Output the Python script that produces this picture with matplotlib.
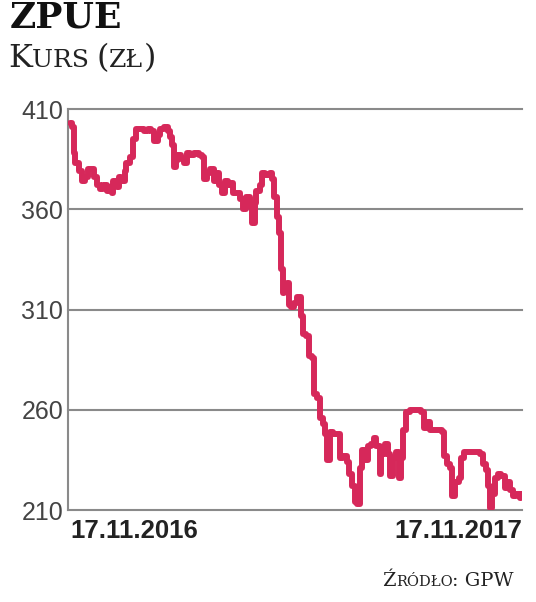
import matplotlib
matplotlib.use("Agg")
import matplotlib.pyplot as plt
from matplotlib.offsetbox import TextArea, HPacker, AnchoredOffsetbox

# calendar days since 17.11.2016 and closing price (zl)
days = [2, 3, 5, 6, 9, 11, 14, 16, 18, 21, 23, 26, 28, 31, 33, 35, 36, 39, 41, 43,
        46, 47, 50, 52, 55, 58, 61, 64, 67, 69, 72, 74, 77, 80, 82, 84, 85, 87, 88, 91,
        93, 96, 98, 101, 105, 108, 109, 112, 114, 117, 119, 121, 124, 126, 129, 131, 133, 136, 138, 141,
        143, 146, 148, 150, 151, 154, 156, 158, 161, 162, 164, 166, 168, 170, 171, 173, 174, 176, 178, 179,
        182, 184, 187, 189, 191, 194, 196, 198, 200, 203, 205, 207, 208, 211, 213, 216, 219, 221, 224, 226,
        228, 231, 232, 235, 236, 239, 241, 244, 246, 248, 251, 252, 255, 257, 259, 261, 264, 266, 268, 269,
        272, 275, 278, 281, 284, 286, 289, 291, 294, 297, 301, 302, 305, 307, 309, 311, 314, 316, 318, 322,
        325, 328, 331, 334, 336, 338, 339, 341, 343, 346, 348, 351, 353, 355, 358, 360, 363, 364]
price = [403, 401, 388, 383, 379, 374, 376, 380, 380, 376, 372, 370, 372, 369, 371, 368, 374, 371, 376, 374,
         379, 383, 386, 395, 400, 400, 399, 400, 399, 394, 397, 400, 401, 399, 396, 392, 381, 384, 387, 385,
         383, 388, 387, 388, 387, 386, 375, 378, 380, 374, 378, 372, 368, 374, 372, 373, 368, 368, 365, 360,
         366, 362, 353, 363, 369, 372, 378, 377, 377, 378, 375, 366, 356, 348, 330, 318, 322, 323, 312, 311,
         313, 316, 307, 298, 297, 287, 286, 268, 266, 256, 253, 248, 235, 249, 248, 248, 236, 237, 234, 228,
         222, 214, 213, 231, 240, 235, 242, 243, 246, 242, 228, 238, 243, 238, 227, 236, 239, 226, 236, 250,
         259, 260, 260, 260, 259, 251, 254, 250, 250, 250, 249, 237, 233, 231, 217, 224, 226, 236, 239, 239,
         239, 239, 238, 233, 230, 222, 211, 218, 226, 228, 227, 221, 224, 220, 217, 218, 216, 218]

yticks = [210, 260, 310, 360, 410]
date_labels = ["17.11.2016", "17.11.2017"]

RED = "#d6285a"
GRID = "#8a8a8a"
NARROW = ["Liberation Sans Narrow", "Liberation Sans", "DejaVu Sans"]
SERIF = ["DejaVu Serif"]

fig = plt.figure(figsize=(5.36, 6.02), dpi=100)
ax = fig.add_axes([68 / 536, 1 - 510 / 602, 454 / 536, 401 / 602])

ax.plot(days, price, color=RED, lw=4.3, drawstyle="steps-post",
        solid_joinstyle="round", solid_capstyle="round", zorder=3)

ax.set_xlim(0, 365)
ax.set_ylim(210, 410)
ax.set_yticks(yticks)
ax.set_yticklabels([str(t) for t in yticks], family=NARROW, fontsize=18, color="#444444")
ax.tick_params(axis="y", length=0, pad=3.5)
ax.set_xticks([])
for t in yticks:
    ax.axhline(t, color=GRID, lw=1.5, zorder=1, clip_on=False)
for s in ["top", "right"]:
    ax.spines[s].set_visible(False)
ax.spines["left"].set_color(GRID)
ax.spines["left"].set_linewidth(1.5)
ax.spines["bottom"].set_visible(False)

# date labels under the axis
fig.text(70 / 536, 1 - 531 / 602, date_labels[0], family=NARROW, fontsize=18.5,
         fontweight="bold", color="#222222", ha="left", va="center")
fig.text(522 / 536, 1 - 531 / 602, date_labels[1], family=NARROW, fontsize=18.5,
         fontweight="bold", color="#222222", ha="right", va="center")

# title
fig.text(10 / 536, 1 - 18 / 602, "ZPUE", family=SERIF, fontsize=26,
         fontweight="bold", color="#111111", ha="left", va="center")


def small_caps(parts, x, y, ha):
    # parts: list of (text, size); packed on a shared baseline
    boxes = [TextArea(t, textprops=dict(family=SERIF, fontsize=s, color="#222222"))
             for t, s in parts]
    pack = HPacker(children=boxes, align="baseline", pad=0, sep=0)
    loc = "lower left" if ha == "left" else "lower right"
    ab = AnchoredOffsetbox(loc=loc, child=pack, pad=0, borderpad=0, frameon=False,
                           bbox_to_anchor=(x, y), bbox_transform=fig.transFigure)
    fig.add_artist(ab)


small_caps([("K", 23), ("URS ", 18), ("(", 23), ("ZŁ", 18), (")", 23)],
           8 / 536, 1 - 74 / 602, "left")
small_caps([("Ź", 14), ("RÓDŁO", 10.5), (": GPW", 14)],
           514 / 536, 1 - 590 / 602, "right")

fig.savefig("out.png", dpi=100, facecolor="white")
